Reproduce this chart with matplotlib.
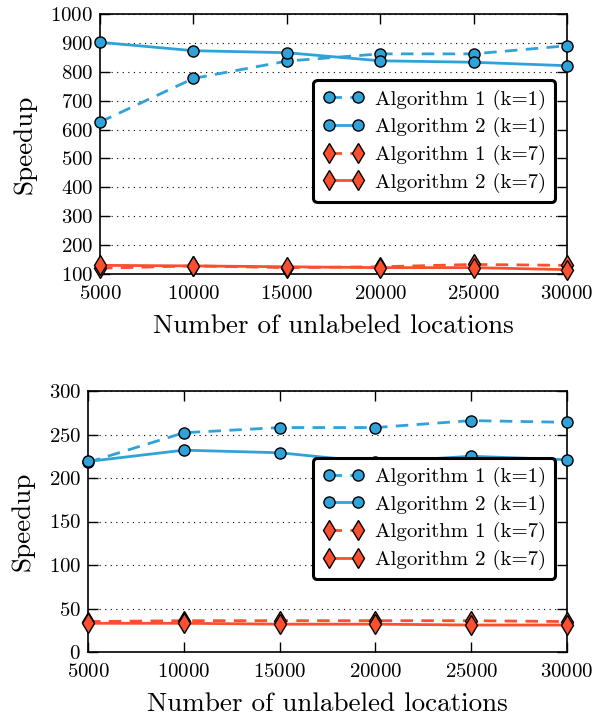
import matplotlib
matplotlib.use("Agg")
import matplotlib.pyplot as plt

plt.rcParams['font.family'] = ['cmr10', 'DejaVu Serif']
plt.rcParams['axes.formatter.use_mathtext'] = True
plt.rcParams['mathtext.fontset'] = 'cm'

BLUE = "#30a2da"
RED = "#fc4f30"

x_vals = [5000, 10000, 15000, 20000, 25000, 30000]

# top panel
top_alg1_k1 = [626, 777, 837, 862, 862, 890]
top_alg2_k1 = [902, 873, 866, 838, 833, 821]
top_alg1_k7 = [120, 128, 122, 125, 133, 130]
top_alg2_k7 = [130, 128, 125, 122, 122, 115]

# bottom panel
bot_alg1_k1 = [218, 252, 258, 258, 266, 264]
bot_alg2_k1 = [219, 232, 229, 218, 225, 221]
bot_alg1_k7 = [35, 36, 36, 36, 36, 35]
bot_alg2_k7 = [33, 33, 32, 32, 31, 31]

labels = ["Algorithm 1 (k=1)", "Algorithm 2 (k=1)",
          "Algorithm 1 (k=7)", "Algorithm 2 (k=7)"]

fig = plt.figure(figsize=(5.95, 7.17), dpi=100)
ax1 = fig.add_axes([100/595, 1 - 274/717, 467/595, 260/717])
ax2 = fig.add_axes([88/595, 1 - 652/717, 479/595, 261/717])


def draw_panel(ax, series, ylim, yticks, legend_anchor):
    styles = [(BLUE, 'o', '--'), (BLUE, 'o', '-'), (RED, 'd', '--'), (RED, 'd', '-')]
    for ys, (c, m, ls), lab in zip(series, styles, labels):
        ln, = ax.plot(x_vals, ys, color=c, linestyle=ls, marker=m,
                      markersize=8 if m == 'o' else 10,
                      markeredgecolor='black', markeredgewidth=1.0, linewidth=2,
                      label=lab, clip_on=False, zorder=3)
        if ls == '--':
            ln.set_dashes((4.5, 3))
    ax.set_xlim(5000, 30000)
    ax.set_ylim(*ylim)
    ax.set_xticks(x_vals)
    ax.set_yticks(yticks)
    ax.tick_params(direction='in', top=True, right=True, length=7, width=1,
                   labelsize=15)
    ax.tick_params(axis='x', pad=8)
    ax.tick_params(axis='y', pad=5)
    ax.yaxis.grid(True, linestyle=(0, (1, 4)), color='black', linewidth=0.8)
    ax.set_axisbelow(True)
    for sp in ax.spines.values():
        sp.set_linewidth(1.2)
    ax.set_xlabel("Number of unlabeled locations", fontsize=19.5, labelpad=8)
    ax.set_ylabel("Speedup", fontsize=19.5, labelpad=10)
    leg = ax.legend(loc='upper right', bbox_to_anchor=legend_anchor, numpoints=2,
                    fontsize=15, frameon=True, fancybox=True, handlelength=2.0,
                    handletextpad=0.5, borderpad=0.45, labelspacing=0.36,
                    borderaxespad=0)
    fr = leg.get_frame()
    fr.set_edgecolor('black')
    fr.set_linewidth(2.2)
    fr.set_alpha(1)


draw_panel(ax1, [top_alg1_k1, top_alg2_k1, top_alg1_k7, top_alg2_k7],
           (100, 1000), range(100, 1001, 100), (0.975, 0.745))
draw_panel(ax2, [bot_alg1_k1, bot_alg2_k1, bot_alg1_k7, bot_alg2_k7],
           (0, 300), range(0, 301, 50), (0.975, 0.745))

plt.savefig("out.png", dpi=100)
